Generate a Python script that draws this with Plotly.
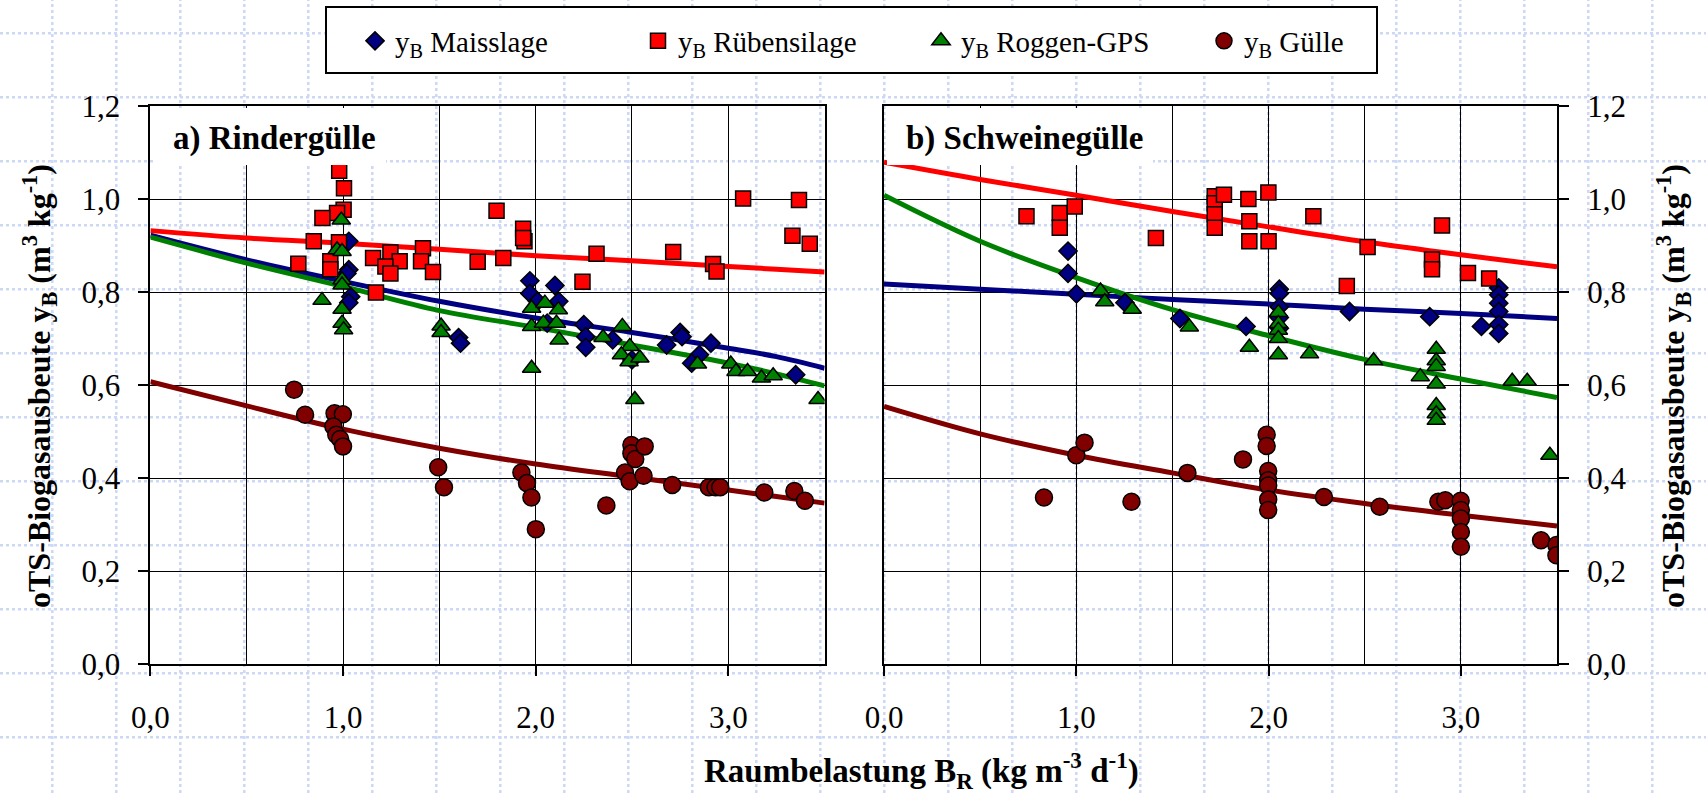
import plotly.graph_objects as go

W, H = 1706, 793

# ---------------- data: a) Rindergülle ----------------
a_mais_x = [1.03, 1.03, 1.02, 1.04, 1.03, 1.60, 1.61, 1.97, 1.97, 2.01, 2.10, 2.12, 2.06,
            2.25, 2.26, 2.26, 2.40, 2.50, 2.68, 2.75, 2.76, 2.91, 2.85, 2.81, 3.35]
a_mais_y = [0.909, 0.848, 0.840, 0.790, 0.777, 0.702, 0.690, 0.824, 0.797, 0.780, 0.814, 0.780, 0.733,
            0.730, 0.704, 0.681, 0.697, 0.654, 0.686, 0.713, 0.704, 0.690, 0.665, 0.647, 0.622]

a_rueb_x = [0.98, 1.005, 1.003, 0.969, 0.893, 0.848, 0.979, 0.768, 0.934, 0.934, 1.156, 1.246,
            1.294, 1.22, 1.246, 1.415, 1.405, 1.467, 1.699, 1.171, 1.797, 1.935, 1.942, 1.935,
            1.832, 2.316, 2.243, 2.714, 2.921, 2.939, 3.077, 3.367, 3.333, 3.423]
a_rueb_y = [1.061, 1.023, 0.977, 0.970, 0.959, 0.909, 0.907, 0.861, 0.866, 0.849, 0.873, 0.885,
            0.866, 0.855, 0.840, 0.894, 0.866, 0.843, 0.865, 0.799, 0.975, 0.936, 0.909, 0.916,
            0.873, 0.882, 0.822, 0.886, 0.860, 0.844, 1.001, 0.998, 0.921, 0.904]

a_rogg_x = [0.991, 0.969, 0.995, 0.995, 0.995, 0.891, 0.995, 0.995, 1.003, 1.509, 1.509,
            1.979, 2.048, 2.118, 1.979, 2.04, 2.108, 2.122, 1.979, 2.35, 2.45, 2.489, 2.445,
            2.485, 2.541, 2.515, 2.84, 3.013, 3.04, 3.10, 3.172, 3.233, 3.466]
a_rogg_y = [0.955, 0.891, 0.887, 0.826, 0.815, 0.782, 0.763, 0.733, 0.719, 0.727, 0.713,
            0.765, 0.776, 0.762, 0.726, 0.733, 0.733, 0.697, 0.636, 0.702, 0.726, 0.683, 0.665,
            0.650, 0.658, 0.569, 0.645, 0.645, 0.629, 0.629, 0.615, 0.620, 0.569]

a_guel_x = [0.746, 0.803, 0.956, 0.999, 0.95, 0.965, 0.985, 1.0, 1.494, 1.524, 1.926, 1.955,
            1.978, 2.001, 2.367, 2.464, 2.488, 2.497, 2.497, 2.517, 2.566, 2.56, 2.709, 2.899,
            2.934, 2.958, 3.187, 3.343, 3.398]
a_guel_y = [0.590, 0.536, 0.539, 0.537, 0.511, 0.493, 0.484, 0.468, 0.423, 0.380, 0.412, 0.389,
            0.358, 0.290, 0.341, 0.412, 0.393, 0.471, 0.453, 0.441, 0.468, 0.405, 0.385, 0.380,
            0.380, 0.380, 0.369, 0.372, 0.351]

# fitted trend curves
a_fit_x = [0.0, 0.5, 1.0, 1.5, 2.0, 2.5, 3.0, 3.25, 3.5]
a_fit_mais = [0.922, 0.869, 0.823, 0.780, 0.744, 0.713, 0.679, 0.661, 0.636]
a_fit_rueb = [0.932, 0.916, 0.905, 0.892, 0.878, 0.867, 0.855, 0.849, 0.843]
a_fit_rogg = [0.918, 0.862, 0.812, 0.760, 0.724, 0.686, 0.647, 0.624, 0.598]
a_fit_guel = [0.607, 0.555, 0.505, 0.464, 0.430, 0.402, 0.374, 0.360, 0.346]

# ---------------- data: b) Schweinegülle ----------------
b_mais_x = [0.957, 0.957, 1.001, 1.253, 1.539, 1.883, 2.056, 2.056, 2.056, 2.056, 2.056,
            2.421, 2.838, 3.107, 3.197, 3.197, 3.197, 3.197, 3.197, 3.197]
b_mais_y = [0.888, 0.840, 0.796, 0.777, 0.743, 0.726, 0.806, 0.797, 0.768, 0.745, 0.722,
            0.758, 0.747, 0.726, 0.809, 0.794, 0.776, 0.758, 0.730, 0.711]

b_rueb_x = [0.741, 0.914, 0.914, 0.992, 1.414, 1.72, 1.72, 1.72, 1.72, 1.768, 1.895, 1.999,
            1.90, 1.90, 2.0, 2.233, 2.515, 2.407, 2.902, 2.85, 2.85, 3.037, 3.147]
b_rueb_y = [0.963, 0.970, 0.938, 0.984, 0.916, 1.006, 0.991, 0.967, 0.938, 1.009, 1.000, 1.014,
            0.952, 0.909, 0.909, 0.963, 0.897, 0.813, 0.943, 0.870, 0.849, 0.841, 0.829]

b_rogg_x = [1.126, 1.148, 1.291, 1.588, 1.90, 2.051, 2.051, 2.051, 2.051, 2.051, 2.213, 2.546,
            2.789, 2.872, 2.872, 2.872, 2.872, 2.872, 2.872, 2.872, 3.267, 3.345, 3.463]
b_rogg_y = [0.802, 0.779, 0.763, 0.725, 0.681, 0.756, 0.732, 0.718, 0.700, 0.665, 0.667, 0.652,
            0.618, 0.677, 0.652, 0.640, 0.602, 0.556, 0.538, 0.524, 0.608, 0.608, 0.449]

b_guel_x = [0.832, 1.0, 1.043, 1.287, 1.578, 1.867, 1.99, 1.99, 1.998, 1.998, 1.998, 1.998,
            1.998, 2.288, 2.578, 2.883, 2.919, 2.999, 3.0, 3.0, 3.0, 3.0, 3.417, 3.497, 3.497]
b_guel_y = [0.358, 0.449, 0.476, 0.349, 0.411, 0.440, 0.493, 0.469, 0.415, 0.395, 0.384, 0.354,
            0.331, 0.359, 0.338, 0.349, 0.352, 0.351, 0.331, 0.313, 0.284, 0.252, 0.266, 0.256,
            0.234]

b_fit_x = [0.0, 0.5, 1.0, 1.5, 2.0, 2.5, 3.0, 3.5]
b_fit_mais = [0.817, 0.806, 0.795, 0.784, 0.774, 0.763, 0.754, 0.743]
b_fit_rueb = [1.079, 1.042, 1.008, 0.973, 0.940, 0.908, 0.880, 0.854]
b_fit_rogg = [1.008, 0.909, 0.831, 0.762, 0.706, 0.655, 0.613, 0.573]
b_fit_guel = [0.554, 0.495, 0.449, 0.411, 0.374, 0.345, 0.320, 0.297]

series_names = ["y<sub>B</sub> Maisslage", "y<sub>B</sub> Rübensilage",
                "y<sub>B</sub> Roggen-GPS", "y<sub>B</sub> Gülle"]
x_ticks = [0, 1, 2, 3]
y_ticks = [0.0, 0.2, 0.4, 0.6, 0.8, 1.0, 1.2]

# ---------------- styling ----------------
FONT = "Liberation Serif"
colors = ["#000080", "#FF0000", "#008000", "#800000"]
symbols = ["diamond", "square", "triangle-up", "circle"]
sizes = [14, 15, 16, 17]

fig = go.Figure()

panels = [
    ("x", "y", a_fit_x, [a_fit_mais, a_fit_rueb, a_fit_rogg, a_fit_guel],
     [(a_mais_x, a_mais_y), (a_rueb_x, a_rueb_y), (a_rogg_x, a_rogg_y), (a_guel_x, a_guel_y)], True),
    ("x2", "y2", b_fit_x, [b_fit_mais, b_fit_rueb, b_fit_rogg, b_fit_guel],
     [(b_mais_x, b_mais_y), (b_rueb_x, b_rueb_y), (b_rogg_x, b_rogg_y), (b_guel_x, b_guel_y)], False),
]

for xa, ya, fx, fits, pts, legend in panels:
    for i, fy in enumerate(fits):
        fig.add_trace(go.Scatter(x=fx, y=fy, mode="lines", xaxis=xa, yaxis=ya,
                                 line=dict(color=colors[i], width=5, shape="spline"),
                                 showlegend=False, hoverinfo="skip"))
    for i, (px, py) in enumerate(pts):
        fig.add_trace(go.Scatter(x=px, y=py, mode="markers", xaxis=xa, yaxis=ya,
                                 name=series_names[i], showlegend=legend,
                                 marker=dict(symbol=symbols[i], size=sizes[i], color=colors[i],
                                             line=dict(color="black", width=1.5))))


def px2x(p):
    return p / W


def px2y(p):
    return 1 - p / H


ydom = [px2y(664), px2y(106)]

common_x = dict(range=[0, 3.5], tickvals=x_ticks, tickformat=".1f", ticks="outside", ticklen=10,
                tickwidth=1.5, tickcolor="black", showgrid=True, gridcolor="black", gridwidth=1,
                minor=dict(dtick=0.5, tick0=0, showgrid=True, gridcolor="black", gridwidth=1, ticks=""),
                showline=True, linecolor="black", linewidth=2, mirror=True, zeroline=False,
                automargin=False,
                tickfont=dict(family=FONT, size=31, color="black"), ticklabelstandoff=15)
common_y = dict(range=[0, 1.2], tickvals=y_ticks, tickformat=".1f", ticks="outside", ticklen=10,
                tickwidth=1.5, tickcolor="black", showgrid=True, gridcolor="black", gridwidth=1,
                showline=True, linecolor="black", linewidth=2, mirror=True, zeroline=False,
                automargin=False,
                tickfont=dict(family=FONT, size=31, color="black"), ticklabelstandoff=12,
                domain=ydom)

fig.update_layout(
    xaxis=dict(domain=[px2x(150.4), px2x(824.6)], anchor="y", **common_x),
    yaxis=dict(anchor="x", side="left", **common_y),
    xaxis2=dict(domain=[px2x(884), px2x(1557)], anchor="y2", **common_x),
    yaxis2=dict(anchor="x2", side="right", **common_y),
)

# background pattern (light blue dotted grid) and legend box
shapes = []
bx = 52.3
while bx < W:
    shapes.append(dict(type="line", xref="paper", yref="paper", x0=px2x(bx), x1=px2x(bx), y0=0, y1=1,
                       line=dict(color="rgb(205,216,246)", width=2.5, dash="dot"), layer="below"))
    bx += 64
by = 33.3
while by < H:
    shapes.append(dict(type="line", xref="paper", yref="paper", x0=0, x1=1, y0=px2y(by), y1=px2y(by),
                       line=dict(color="rgb(205,216,246)", width=2.5, dash="dot"), layer="below"))
    by += 64
shapes.append(dict(type="rect", xref="paper", yref="paper", x0=px2x(326), x1=px2x(1377),
                   y0=px2y(73), y1=px2y(7), fillcolor="white", line=dict(color="black", width=2),
                   layer="below"))
# white boxes behind the panel titles
shapes.append(dict(type="rect", xref="paper", yref="paper", x0=px2x(153), x1=px2x(386),
                   y0=px2y(165), y1=px2y(108), fillcolor="white", line=dict(width=0), layer="above"))
shapes.append(dict(type="rect", xref="paper", yref="paper", x0=px2x(887), x1=px2x(1153),
                   y0=px2y(165), y1=px2y(108), fillcolor="white", line=dict(width=0), layer="above"))

ytitle = "<b>oTS-Biogasausbeute y<sub>B</sub> (m<sup>3</sup> kg<sup>-1</sup>)</b>"
annotations = [
    dict(text="<b>a) Rindergülle</b>", xref="paper", yref="paper", x=px2x(171), y=px2y(138),
         xanchor="left", yanchor="middle", showarrow=False, font=dict(family=FONT, size=33, color="black")),
    dict(text="<b>b) Schweinegülle</b>", xref="paper", yref="paper", x=px2x(904), y=px2y(138),
         xanchor="left", yanchor="middle", showarrow=False, font=dict(family=FONT, size=33, color="black")),
    dict(text=ytitle, xref="paper", yref="paper", x=px2x(40), y=px2y(386), textangle=-90,
         xanchor="center", yanchor="middle", showarrow=False, font=dict(family=FONT, size=32, color="black")),
    dict(text=ytitle, xref="paper", yref="paper", x=px2x(1674), y=px2y(386), textangle=-90,
         xanchor="center", yanchor="middle", showarrow=False, font=dict(family=FONT, size=32, color="black")),
    dict(text="<b>Raumbelastung B<sub>R</sub> (kg m<sup>-3</sup> d<sup>-1</sup>)</b>", xref="paper",
         yref="paper", x=px2x(921), y=px2y(770), xanchor="center", yanchor="middle", showarrow=False,
         font=dict(family=FONT, size=33, color="black")),
]

fig.update_layout(
    width=W, height=H, margin=dict(l=0, r=0, t=0, b=0, autoexpand=False),
    paper_bgcolor="white", plot_bgcolor="rgba(0,0,0,0)",
    separators=", ",
    font=dict(family=FONT, color="black"),
    shapes=shapes, annotations=annotations,
    legend=dict(orientation="h", x=px2x(355), y=px2y(41), xanchor="left", yanchor="middle",
                bgcolor="rgba(0,0,0,0)", borderwidth=0, entrywidth=238, entrywidthmode="pixels",
                font=dict(family=FONT, size=29, color="black")),
)

fig.write_html("out.html", config={"displayModeBar": False},
               post_script="document.body.style.margin='0';document.body.style.overflow='hidden';")
